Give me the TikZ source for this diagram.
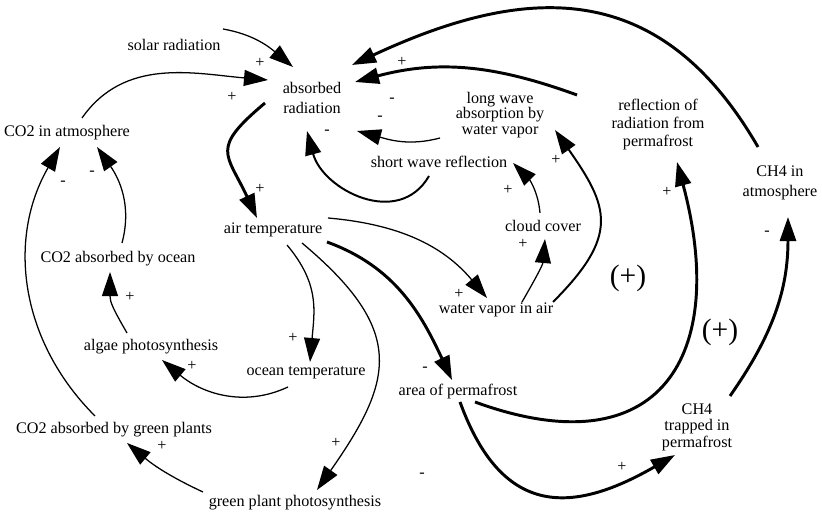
\documentclass[tikz,border=0pt]{standalone}
\usepackage{fontspec}
\setmainfont{Liberation Serif}
\usetikzlibrary{arrows.meta,calc}

\begin{document}
\begin{tikzpicture}[x=0.025cm, y=0.025cm,
  var/.style={inner sep=1pt, align=center, font=\fontsize{11.5}{13}\selectfont},
  sgn/.style={inner sep=0pt, font=\fontsize{11.5}{13}\selectfont},
  loopsign/.style={inner sep=0pt, font=\fontsize{21}{24}\selectfont},
  link/.style={-{Triangle[length=6mm, width=4mm]}, line width=0.9pt},
  medlink/.style={link, line width=1.4pt},
  strong/.style={link, line width=2.1pt}
]
\useasboundingbox (0,0) rectangle (822,513);

% variables of the loop diagram
\node[var] (solar) at (174,468) {solar radiation};
\node[var, font=\fontsize{11.5}{14}\selectfont] (absorbed) at (312,415) {absorbed\\radiation};
\node[var] (co2atm) at (67,380) {CO2 in atmosphere};
\node[var, font=\fontsize{11.5}{11}\selectfont] (longwave) at (500,398) {long wave\\absorption by\\water vapor};
\node[var, font=\fontsize{11.5}{12.8}\selectfont] (reflection) at (658,388) {reflection of\\radiation from\\permafrost};
\node[var, font=\fontsize{11.5}{14}\selectfont] (ch4atm) at (780,330) {CH4 in\\atmosphere};
\node[var] (shortwave) at (439,351) {short wave reflection};
\node[var] (cloud) at (543,287) {cloud cover};
\node[var] (air) at (273,283) {air temperature};
\node[var] (co2ocean) at (118,254) {CO2 absorbed by ocean};
\node[var] (vapor) at (496,203) {water vapor in air};
\node[var] (algae) at (151,166) {algae photosynthesis};
\node[var] (ocean) at (306,140) {ocean temperature};
\node[var] (permafrost) at (458,121) {area of permafrost};
\node[var] (co2plants) at (114,83) {CO2 absorbed by green plants};
\node[var, font=\fontsize{11.5}{11.7}\selectfont] (ch4trap) at (697,86) {CH4\\trapped in\\permafrost};
\node[var] (greenphoto) at (295,10) {green plant photosynthesis};

% loop polarity
\node[loopsign] (loopA) at (628,235) {(+)};
\node[loopsign] (loopB) at (720,181) {(+)};

% link signs
\foreach \px/\py/\s [count=\i] in {260/450/+, 232/416/+, 402/451/+, 392/413/-, 380/395/-,
    327/381/-, 260/324/+, 556/353/+, 508/323/+, 523/269/+, 459/219/+, 293/175/+,
    667/321/+, 767/280/-, 92/340/-, 63/330/-, 130/216/+, 192/147/+, 425/144/-,
    336/70/+, 162/67/+, 422/38/-, 622/46/+}
  \node[sgn] (sign\i) at (\px,\py) {\s};

% links
\draw[link] ($(solar)+(49,16)$) to[out=-10,in=140] ($(absorbed)+(-19,31)$);
\draw[link] ($(co2atm)+(15,15)$) to[out=55,in=175] ($(absorbed)+(-44,18)$);
\draw[strong] ($(absorbed)+(-47,-5)$) to[out=-140,in=115,looseness=1.6] ($(air)+(-16,12)$);
\draw[medlink] ($(shortwave)+(-10,-14)$) to[out=-120,in=-75,looseness=1.2] ($(absorbed)+(-5,-33)$);
\draw[link] ($(longwave)+(-60,-23)$) to[out=-165,in=-15] ($(absorbed)+(45,-33)$);
\draw[strong] ($(reflection)+(-81,30)$) to[out=160,in=15] ($(absorbed)+(43,16)$);
\draw[strong] ($(ch4atm)+(-22,36)$) to[out=120,in=25,looseness=1.2] ($(absorbed)+(40,33)$);
\draw[link] ($(cloud)+(-3,13)$) to[out=95,in=-45] ($(shortwave)+(74,-1)$);
\draw[link] ($(vapor)+(26,8)$) to[out=60,in=-95] ($(cloud)+(2,-13)$);
\draw[medlink] ($(vapor)+(57,8)$) to[out=45,in=-55,looseness=1.4] ($(longwave)+(55,-15)$);
\draw[link] ($(air)+(55,12)$) to[out=-5,in=130] ($(vapor)+(-9,12)$);
\draw[link] ($(air)+(14,-15)$) to[out=-50,in=85,looseness=1.1] ($(ocean)+(4,11)$);
\draw[link] ($(air)+(29,-13)$) to[out=-40,in=55,looseness=1.4] ($(greenphoto)+(22,13)$);
\draw[strong] ($(air)+(54,-12)$) to[out=-20,in=115] ($(permafrost)+(-6,12)$);
\draw[link] ($(ocean)+(-18,-14)$) to[out=-155,in=-40] ($(algae)+(11,-13)$);
\draw[link] ($(algae)+(-24,14)$) to[out=120,in=-90,looseness=1.2] ($(co2ocean)+(-8,-13)$);
\draw[link] ($(co2ocean)+(4,16)$) to[out=75,in=-55] ($(co2atm)+(30,-14)$);
\draw[link] ($(co2plants)+(-19,14)$) to[out=135,in=-120] ($(co2atm)+(-7,-14)$);
\draw[link] ($(greenphoto)+(-92,11)$) to[out=155,in=-40] ($(co2plants)+(13,-13)$);
\draw[strong] ($(permafrost)+(17,-10)$) to[out=-20,in=-75,looseness=1.62] ($(reflection)+(19,-37)$);
\draw[strong] ($(permafrost)+(2,-10)$) to[out=-70,in=-150,looseness=1.4] ($(ch4trap)+(-22,-28)$);
\draw[strong] ($(ch4trap)+(33,31)$) to[out=55,in=-90] ($(ch4atm)+(8,-34)$);

\end{tikzpicture}
\end{document}
